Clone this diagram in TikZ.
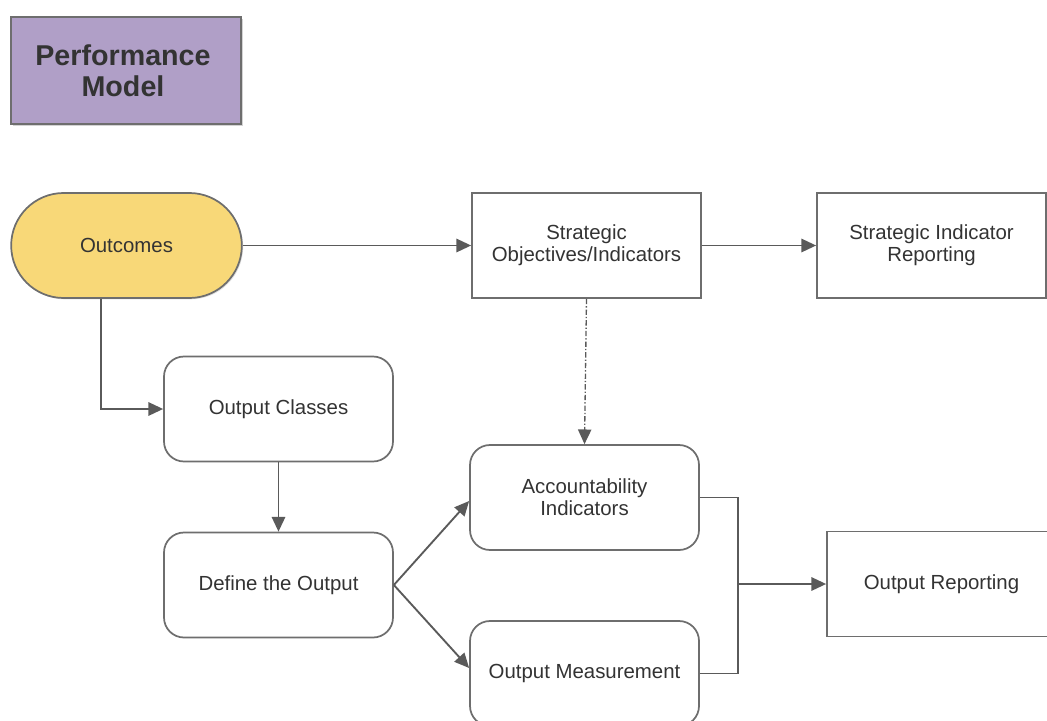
\documentclass[tikz,border=0pt]{standalone}
\usepackage{fontspec}
\setmainfont{Liberation Sans}
\usetikzlibrary{arrows.meta,shapes.misc,shadows}
\definecolor{lineg}{HTML}{5A5A5A}
\definecolor{boxg}{HTML}{6E6E6E}
\definecolor{txt}{HTML}{333333}
\definecolor{lav}{HTML}{B09FC7}
\definecolor{yel}{HTML}{F8D878}
\tikzset{
  base/.style={draw=boxg, line width=1.3pt, minimum width=171.75pt, minimum height=78.75pt, inner sep=0pt, align=center, text=txt, font=\fontsize{15.3pt}{16.5pt}\selectfont},
  sqbox/.style={base, fill=white},
  rbox/.style={base, fill=white, rounded corners=15pt},
  conn/.style={draw=lineg, line width=1.4pt, -{Triangle[length=11pt,width=10pt]}},
  plain/.style={draw=lineg, line width=1.4pt},
}
\begin{document}
\begin{tikzpicture}[x=0.75pt,y=-0.75pt]
\useasboundingbox (0,0) rectangle (1047,721);
\begin{scope}
\clip (0,0) rectangle (1047,721);
\node[base, fill=lav, minimum width=172.5pt, minimum height=80.25pt, drop shadow={shadow xshift=1.5pt, shadow yshift=-1.5pt, opacity=0.35}] (title) at (126,70.5) {};
\node[font=\bfseries\fontsize{21.5pt}{23pt}\selectfont, text=txt, align=center, inner sep=0pt] (tt) at (123,70.5) {Performance\\Model};
\node[base, fill=yel, rounded rectangle, minimum width=173pt, minimum height=78.75pt, drop shadow={shadow xshift=1pt, shadow yshift=-1pt, opacity=0.25}] (out) at (126.5,245.5) {Outcomes};
\node[sqbox] (so) at (586.5,245.5) {Strategic\\Objectives/Indicators};
\node[sqbox] (sir) at (931.5,245.5) {Strategic Indicator\\Reporting};
\node[rbox] (oc) at (278.5,409) {Output Classes};
\node[rbox] (def) at (278.5,585) {Define the Output\vphantom{C}};
\node[rbox] (acc) at (584.5,497.5) {Accountability\\Indicators};
\node[rbox] (om) at (584.5,673.5) {Output Measurement};
\node[sqbox] (orp) at (941.5,584) {Output Reporting};
\coordinate (j1) at (101,409);
\coordinate (mrg) at (738,584);
\draw[conn] (out.east) -- (so.west);
\draw[conn] (so.east) -- (sir.west);
\draw[conn] (out.south -| j1) -- (j1) -- (oc.west);
\draw[conn] (oc.south) -- (def.south |- def.north);
\draw[conn] (def.east) -- (acc.west |- 0,501);
\draw[conn] (def.east) -- (om.west |- 0,668);
\draw[conn, dash pattern=on 4pt off 1.5pt on 1pt off 1.5pt, line width=1pt] (so.south) -- (acc.north);
\draw[plain] (acc.east) -| (mrg);
\draw[plain] (om.east) -| (mrg);
\draw[conn] (mrg) -- (orp.west);
\end{scope}
\end{tikzpicture}
\end{document}
